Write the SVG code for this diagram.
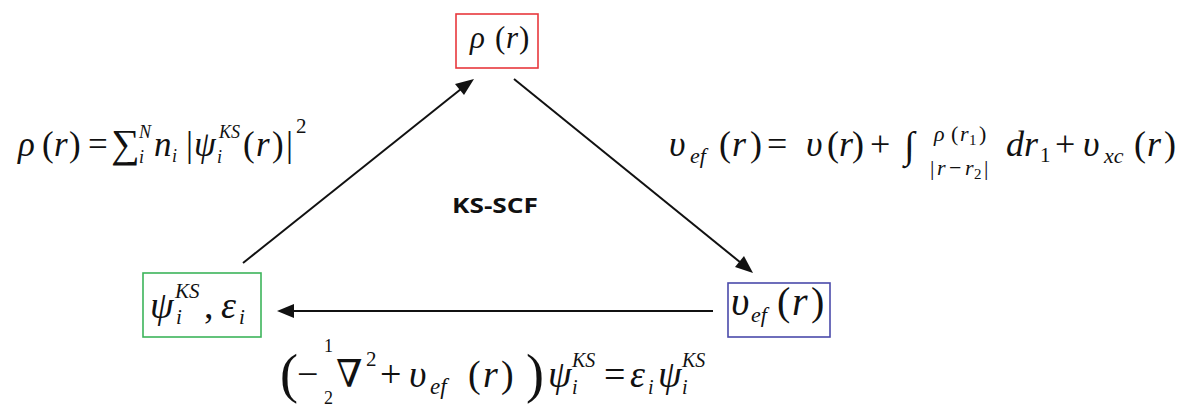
<svg xmlns="http://www.w3.org/2000/svg" width="1195" height="406" viewBox="0 0 1195 406">
<style>
.m{font-family:"Liberation Serif","DejaVu Serif",serif;fill:#111;}
.i{font-style:italic;}
.lbl{font-family:"Open Sans","Liberation Sans",sans-serif;font-weight:bold;font-size:21px;fill:#111;}
.box{fill:#fff;stroke-width:1.6;}
.ln{stroke:#111;stroke-width:2;fill:none;}
.ah{fill:#111;}
</style>
<rect width="1195" height="406" fill="#fff"/>
<g id="connectors">
<line class="ln" x1="243" y1="263" x2="466" y2="85"/>
<path class="ah" d="M474,79 L464,95 L455,84 z"/>
<line class="ln" x1="514" y1="79" x2="746" y2="267"/>
<path class="ah" d="M753,273 L735,267 L744,256 z"/>
<line class="ln" x1="713" y1="311" x2="285" y2="311"/>
<path class="ah" d="M277,311 L294,304 L294,318 z"/>
</g>
<g id="node-rho">
<rect class="box" x="456" y="14" width="82" height="54" stroke="#e8383d"/>
<text class="m" style="font-size:31px" y="48"><tspan class="i" x="470">ρ</tspan><tspan x="495">(</tspan><tspan class="i" x="506">r</tspan><tspan x="519">)</tspan></text>
</g>
<g id="node-psi">
<rect class="box" x="143" y="273" width="118" height="64" stroke="#3cb45a"/>
<text class="m" style="font-size:38px"><tspan class="i" x="150" y="318">ψ</tspan><tspan class="i" style="font-size:21px" x="175" y="298">KS</tspan><tspan class="i" style="font-size:21px" x="176" y="324">i</tspan><tspan x="204" y="318">,</tspan><tspan class="i" x="221" y="318">ε</tspan><tspan class="i" style="font-size:21px" x="239" y="324">i</tspan></text>
</g>
<g id="node-vef">
<rect class="box" x="728" y="283" width="102" height="54" stroke="#4a4aaa"/>
<text class="m" style="font-size:40px"><tspan class="i" x="731" y="315">υ</tspan><tspan class="i" style="font-size:22px" x="751" y="322">ef</tspan><tspan x="777" y="315">(</tspan><tspan class="i" x="792" y="315">r</tspan><tspan x="811" y="315">)</tspan></text>
</g>
<g id="label-ksscf">
<text class="lbl" x="452" y="213" textLength="86" lengthAdjust="spacingAndGlyphs">KS-SCF</text>
</g>
<g id="eq-density">
<text class="m" style="font-size:35px"><tspan class="i" x="18" y="156">ρ</tspan><tspan x="42" y="156">(</tspan><tspan class="i" x="54" y="156">r</tspan><tspan x="69" y="156">)</tspan><tspan x="88" y="156">=</tspan><tspan x="111" y="157" style="font-size:40px">∑</tspan><tspan class="i" style="font-size:18px" x="139" y="138">N</tspan><tspan class="i" style="font-size:18px" x="139" y="163">i</tspan><tspan class="i" x="154" y="156">n</tspan><tspan class="i" style="font-size:18px" x="172" y="162">i</tspan><tspan x="186" y="156">|</tspan><tspan class="i" x="194" y="156">ψ</tspan><tspan class="i" style="font-size:18px" x="219" y="138">KS</tspan><tspan class="i" style="font-size:18px" x="217" y="163">i</tspan><tspan x="243" y="156">(</tspan><tspan class="i" x="256" y="156">r</tspan><tspan x="272" y="156">)</tspan><tspan x="286" y="156">|</tspan><tspan style="font-size:21px" x="296" y="133">2</tspan></text>
</g>
<g id="eq-veff">
<text class="m" style="font-size:36px"><tspan class="i" x="669" y="156">υ</tspan><tspan class="i" style="font-size:22px" x="690" y="163">ef</tspan><tspan x="719" y="156">(</tspan><tspan class="i" x="732" y="156">r</tspan><tspan x="750" y="156">)</tspan><tspan x="767" y="156">=</tspan><tspan class="i" x="806" y="156">υ</tspan><tspan x="827" y="156">(</tspan><tspan class="i" x="839" y="156">r</tspan><tspan x="852" y="156">)</tspan><tspan x="870" y="156">+</tspan><tspan x="904" y="158" style="font-size:38px">∫</tspan></text>
<text class="m" style="font-size:22px"><tspan class="i" x="934" y="141">ρ</tspan><tspan x="951" y="141">(</tspan><tspan class="i" x="960" y="141">r</tspan><tspan style="font-size:15px" x="969" y="145">1</tspan><tspan x="979" y="141">)</tspan></text>
<text class="m" style="font-size:22px"><tspan x="930" y="175">|</tspan><tspan class="i" x="937" y="175">r</tspan><tspan x="949" y="175">−</tspan><tspan class="i" x="965" y="175">r</tspan><tspan style="font-size:15px" x="974" y="179">2</tspan><tspan x="984" y="175">|</tspan></text>
<text class="m" style="font-size:36px"><tspan class="i" x="1006" y="156">dr</tspan><tspan style="font-size:21px" x="1040" y="162">1</tspan><tspan x="1055" y="156">+</tspan><tspan class="i" x="1083" y="156">υ</tspan><tspan class="i" style="font-size:22px" x="1104" y="163">xc</tspan><tspan x="1134" y="156">(</tspan><tspan class="i" x="1147" y="156">r</tspan><tspan x="1164" y="156">)</tspan></text>
</g>
<g id="eq-ks">
<text class="m" style="font-size:38px"><tspan x="280" y="392" style="font-size:54px">(</tspan><tspan x="297" y="387">−</tspan><tspan x="324" y="352" style="font-size:18px">1</tspan><tspan x="324" y="404" style="font-size:18px">2</tspan><tspan x="336" y="387">∇</tspan><tspan style="font-size:21px" x="366" y="366">2</tspan><tspan x="380" y="387">+</tspan><tspan class="i" x="409" y="387">υ</tspan><tspan class="i" style="font-size:23px" x="430" y="394">ef</tspan><tspan x="468" y="387">(</tspan><tspan class="i" x="483" y="387">r</tspan><tspan x="501" y="387">)</tspan><tspan x="526" y="392" style="font-size:54px">)</tspan><tspan class="i" x="548" y="387">ψ</tspan><tspan class="i" style="font-size:20px" x="572" y="367">KS</tspan><tspan class="i" style="font-size:20px" x="572" y="394">i</tspan><tspan x="604" y="387">=</tspan><tspan class="i" x="630" y="387">ε</tspan><tspan class="i" style="font-size:20px" x="648" y="394">i</tspan><tspan class="i" x="658" y="387">ψ</tspan><tspan class="i" style="font-size:20px" x="682" y="367">KS</tspan><tspan class="i" style="font-size:20px" x="682" y="394">i</tspan></text>
</g>
</svg>
